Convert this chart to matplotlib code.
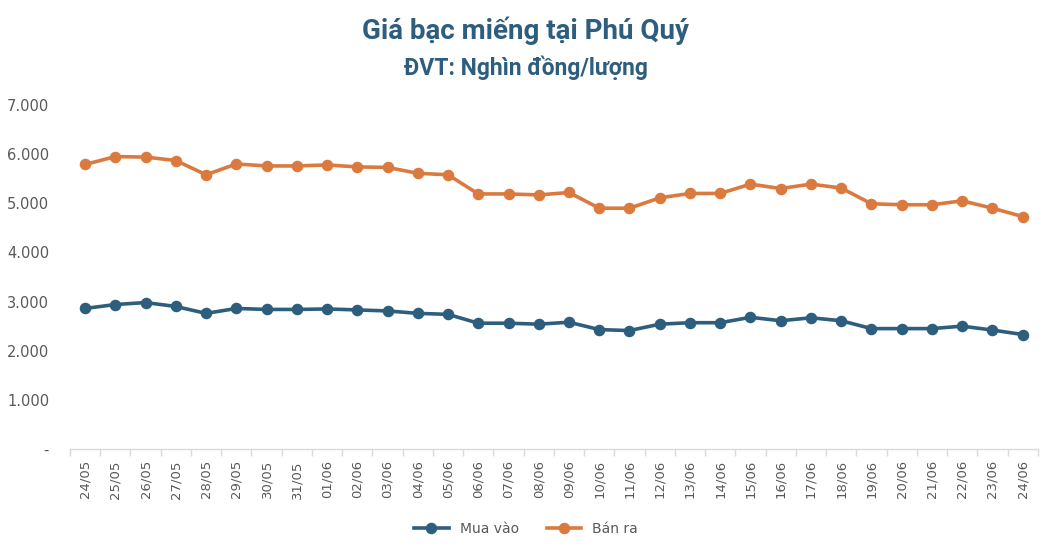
import matplotlib
matplotlib.use('Agg')
from matplotlib import pyplot as plt
from matplotlib.ticker import FixedLocator, FuncFormatter
import numpy as np

dates = ['24/05', '25/05', '26/05', '27/05', '28/05', '29/05', '30/05', '31/05',
         '01/06', '02/06', '03/06', '04/06', '05/06', '06/06', '07/06', '08/06',
         '09/06', '10/06', '11/06', '12/06', '13/06', '14/06', '15/06', '16/06',
         '17/06', '18/06', '19/06', '20/06', '21/06', '22/06', '23/06', '24/06']

mua_vao = [2860, 2940, 2980, 2900, 2760, 2860, 2840, 2840,
           2850, 2830, 2810, 2760, 2740, 2560, 2560, 2540,
           2580, 2430, 2410, 2540, 2570, 2570, 2680, 2610,
           2670, 2610, 2450, 2450, 2450, 2500, 2420, 2330]

ban_ra = [5790, 5950, 5940, 5870, 5580, 5800, 5760, 5760,
          5780, 5740, 5730, 5610, 5580, 5190, 5190, 5170,
          5220, 4900, 4900, 5110, 5200, 5200, 5390, 5300,
          5390, 5310, 4990, 4970, 4970, 5050, 4900, 4730]

blue = '#2E5E7E'
orange = '#DB7A3F'
gray = '#595959'

fig = plt.figure(figsize=(10.52, 5.54), dpi=100)
ax = fig.add_axes([0.0665, 0.1895, 0.92, 0.621])

x = np.arange(len(dates))
ax.plot(x, mua_vao, color=blue, linewidth=2.6, marker='o', markersize=7.3, label='Mua vào')
ax.plot(x, ban_ra, color=orange, linewidth=2.6, marker='o', markersize=7.3, label='Bán ra')

ax.set_xlim(-0.5, len(dates) - 0.5)
ax.set_ylim(0, 7000)
ax.set_yticks(range(0, 7001, 1000))
ax.yaxis.set_major_formatter(FuncFormatter(lambda v, p: '-' if v == 0 else f'{int(v):,}'.replace(',', '.')))

ax.set_xticks(x)
ax.set_xticklabels(dates, rotation=90)
ax.xaxis.set_minor_locator(FixedLocator(np.arange(-0.5, len(dates), 1)))
ax.tick_params(axis='x', which='major', length=0, pad=8, labelsize=9.5, labelcolor=gray)
ax.tick_params(axis='x', which='minor', length=5, color='#D9D9D9', width=1)
ax.tick_params(axis='y', length=0, pad=15, labelsize=10.5, labelcolor=gray)

for s in ['top', 'right', 'left']:
    ax.spines[s].set_visible(False)
ax.spines['bottom'].set_color('#D9D9D9')
ax.spines['bottom'].set_linewidth(1)

fig.text(0.5, 0.945, 'Giá bạc miếng tại Phú Quý', ha='center', va='center',
         fontsize=20, fontweight='bold', color=blue, family='Roboto')
fig.text(0.5, 0.878, 'ĐVT: Nghìn đồng/lượng', ha='center', va='center',
         fontsize=16.5, fontweight='bold', color=blue, family='Roboto')

fig.legend(loc='center', bbox_to_anchor=(0.5, 0.045), ncol=2, frameon=False,
           fontsize=10, labelcolor=gray, handlelength=2.5, columnspacing=2)

fig.savefig('out.png', dpi=100)
